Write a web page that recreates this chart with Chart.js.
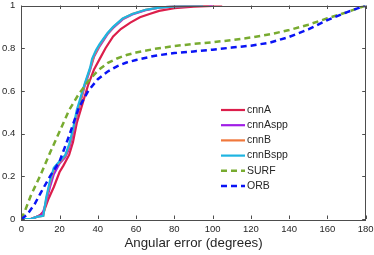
<!DOCTYPE html>
<html>
<head>
<meta charset="utf-8">
<script src="https://cdn.jsdelivr.net/npm/chart.js@4.4.0/dist/chart.umd.min.js"></script>
<style>
  body { margin: 0; background: #fff; }
  #wrap { width: 374px; height: 255px; }
</style>
</head>
<body>
<div id="wrap"><canvas id="mycanvas" width="374" height="255"></canvas></div>
<script>
// angular error (deg) -> cumulative fraction
var cnnA_x = [0, 5, 8, 10, 12, 14, 17, 20, 22, 25, 27, 29, 31, 33, 35, 38, 41, 44, 48, 52, 57, 62, 67, 72, 80, 90, 100, 105];
var cnnA_y = [0, 0, 0.01, 0.02, 0.04, 0.09, 0.15, 0.22, 0.25, 0.3, 0.36, 0.45, 0.51, 0.57, 0.63, 0.7, 0.75, 0.8, 0.855, 0.89, 0.92, 0.945, 0.96, 0.975, 0.987, 0.995, 0.998, 1];

var cnnAspp_x = [0, 5, 8, 11, 13, 15, 17, 20, 23, 25, 27, 29, 31, 33, 36, 38, 41, 45, 48, 53, 58, 65, 72, 80, 100];
var cnnAspp_y = [0, 0, 0.01, 0.02, 0.08, 0.15, 0.21, 0.26, 0.29, 0.33, 0.4, 0.48, 0.55, 0.62, 0.7, 0.76, 0.81, 0.865, 0.895, 0.935, 0.958, 0.978, 0.99, 0.996, 1];

var cnnB_x = [0, 5, 8, 11.5, 13, 15, 17, 20, 23, 25, 27, 29, 31, 33, 36, 38, 41, 45, 48, 53, 58, 65, 72, 80, 98];
var cnnB_y = [0, 0, 0.01, 0.015, 0.09, 0.17, 0.23, 0.265, 0.295, 0.34, 0.41, 0.49, 0.555, 0.625, 0.705, 0.765, 0.815, 0.868, 0.898, 0.938, 0.96, 0.98, 0.99, 0.996, 1];

var cnnBspp_x = [0, 2, 5, 8, 11.5, 13, 15, 17, 20, 23, 25, 27, 29, 31, 33, 36, 37, 39, 41, 45, 48, 53, 58, 65, 72, 80, 95];
var cnnBspp_y = [0, 0, 0, 0.01, 0.015, 0.1, 0.18, 0.24, 0.27, 0.3, 0.35, 0.42, 0.51, 0.57, 0.63, 0.71, 0.75, 0.79, 0.82, 0.87, 0.9, 0.94, 0.96, 0.98, 0.99, 0.996, 1];

var surf_x = [0, 2, 5, 10, 15, 20, 25, 30, 35, 40, 45, 50, 55, 60, 70, 80, 90, 100, 110, 120, 130, 140, 150, 160, 170, 180];
var surf_y = [0, 0.04, 0.11, 0.205, 0.31, 0.41, 0.51, 0.585, 0.645, 0.695, 0.73, 0.752, 0.768, 0.78, 0.797, 0.81, 0.82, 0.828, 0.838, 0.85, 0.865, 0.885, 0.91, 0.94, 0.968, 1];

var orb_x = [0, 3, 7, 10, 15, 20, 25, 30, 35, 40, 45, 50, 55, 60, 70, 80, 90, 100, 110, 120, 130, 140, 150, 160, 170, 180];
var orb_y = [0, 0.02, 0.07, 0.12, 0.2, 0.27, 0.39, 0.52, 0.6, 0.655, 0.69, 0.715, 0.733, 0.745, 0.765, 0.777, 0.785, 0.793, 0.803, 0.812, 0.826, 0.853, 0.888, 0.932, 0.968, 1];

var xTicks = [0, 20, 40, 60, 80, 100, 120, 140, 160, 180];
var yTicks = [0, 0.2, 0.4, 0.6, 0.8, 1];

function pts(xs, ys) {
  var out = [];
  for (var i = 0; i < xs.length; i++) out.push({x: xs[i], y: ys[i]});
  return out;
}

var axisColor = '#4d4d4d';
var textColor = '#262626';
var fontFam = '"Liberation Sans", Arial, Helvetica, sans-serif';

// box round the plot + inward ticks (matlab look)
var boxPlugin = {
  id: 'box',
  afterDraw: function(chart) {
    var ctx = chart.ctx, a = chart.chartArea;
    var xs = chart.scales.x, ys = chart.scales.y;
    ctx.save();
    ctx.strokeStyle = axisColor;
    ctx.lineWidth = 1;
    ctx.strokeRect(Math.round(a.left) + 0.5, Math.round(a.top) + 0.5, Math.round(a.right - a.left), Math.round(a.bottom - a.top));
    ctx.beginPath();
    xTicks.forEach(function(v) {
      var px = Math.round(xs.getPixelForValue(v)) + 0.5;
      ctx.moveTo(px, a.bottom); ctx.lineTo(px, a.bottom - 3.5);
      ctx.moveTo(px, a.top); ctx.lineTo(px, a.top + 3.5);
    });
    yTicks.forEach(function(v) {
      var py = Math.round(ys.getPixelForValue(v)) + 0.5;
      ctx.moveTo(a.left, py); ctx.lineTo(a.left + 3.5, py);
      ctx.moveTo(a.right, py); ctx.lineTo(a.right - 3.5, py);
    });
    ctx.stroke();

    // legend inside the axes
    var lx = 221, ly = 110, step = 15.2;
    ctx.font = '10.5px ' + fontFam;
    ctx.textBaseline = 'middle';
    ctx.textAlign = 'left';
    chart.data.datasets.forEach(function(ds, i) {
      var y = ly + i * step;
      ctx.strokeStyle = ds.borderColor;
      ctx.lineWidth = ds.borderWidth;
      ctx.setLineDash(ds.borderDash || []);
      ctx.beginPath();
      ctx.moveTo(lx, y); ctx.lineTo(lx + 24, y);
      ctx.stroke();
      ctx.setLineDash([]);
      ctx.fillStyle = textColor;
      ctx.fillText(ds.label, lx + 26, y);
    });
    ctx.restore();
  }
};

var chartdata = {
  datasets: [
    {label: 'cnnA', data: pts(cnnA_x, cnnA_y), borderColor: '#dc1e4b', borderWidth: 2.2, order: 5},
    {label: 'cnnAspp', data: pts(cnnAspp_x, cnnAspp_y), borderColor: '#a01ee6', borderWidth: 2.2, order: 4},
    {label: 'cnnB', data: pts(cnnB_x, cnnB_y), borderColor: '#f0783c', borderWidth: 2.2, order: 3},
    {label: 'cnnBspp', data: pts(cnnBspp_x, cnnBspp_y), borderColor: '#1eb4e1', borderWidth: 2.2, order: 2},
    {label: 'SURF', data: pts(surf_x, surf_y), borderColor: '#78ab30', borderWidth: 2.5, borderDash: [6, 4], order: 1},
    {label: 'ORB', data: pts(orb_x, orb_y), borderColor: '#0a14f5', borderWidth: 2.5, borderDash: [6, 4], order: 0}
  ]
};

var ctx = document.getElementById('mycanvas');

var LineGraph = new Chart(ctx, {
  type: 'line',
  data: chartdata,
  plugins: [boxPlugin],
  options: {
    responsive: false,
    animation: false,
    layout: {padding: {left: 0, right: 8.3, top: 5.5, bottom: 0}},
    elements: {point: {radius: 0}, line: {tension: 0, fill: false}},
    plugins: {legend: {display: false}, tooltip: {enabled: false}},
    scales: {
      x: {
        type: 'linear', min: 0, max: 180,
        afterBuildTicks: function(s) { s.ticks = xTicks.map(function(v) { return {value: v}; }); },
        afterFit: function(s) { s.height = 36; s.paddingLeft = 0; s.paddingRight = 0; },
        grid: {display: false, drawTicks: false},
        border: {display: false},
        ticks: {autoSkip: false, maxRotation: 0, padding: 5, color: textColor, font: {family: fontFam, size: 9.5}},
        title: {display: true, text: 'Angular error (degrees)', color: textColor, font: {family: fontFam, size: 13.3}, padding: {top: 0, bottom: 4}}
      },
      y: {
        min: 0, max: 1,
        afterBuildTicks: function(s) { s.ticks = yTicks.map(function(v) { return {value: v}; }); },
        afterFit: function(s) { s.width = 21.3; s.paddingTop = 0; s.paddingBottom = 0; },
        grid: {display: false, drawTicks: false},
        border: {display: false},
        ticks: {
          padding: 6, color: textColor, font: {family: fontFam, size: 9.5},
          callback: function(v) { return String(+(+v).toFixed(1)); }
        }
      }
    }
  }
});
</script>
</body>
</html>
